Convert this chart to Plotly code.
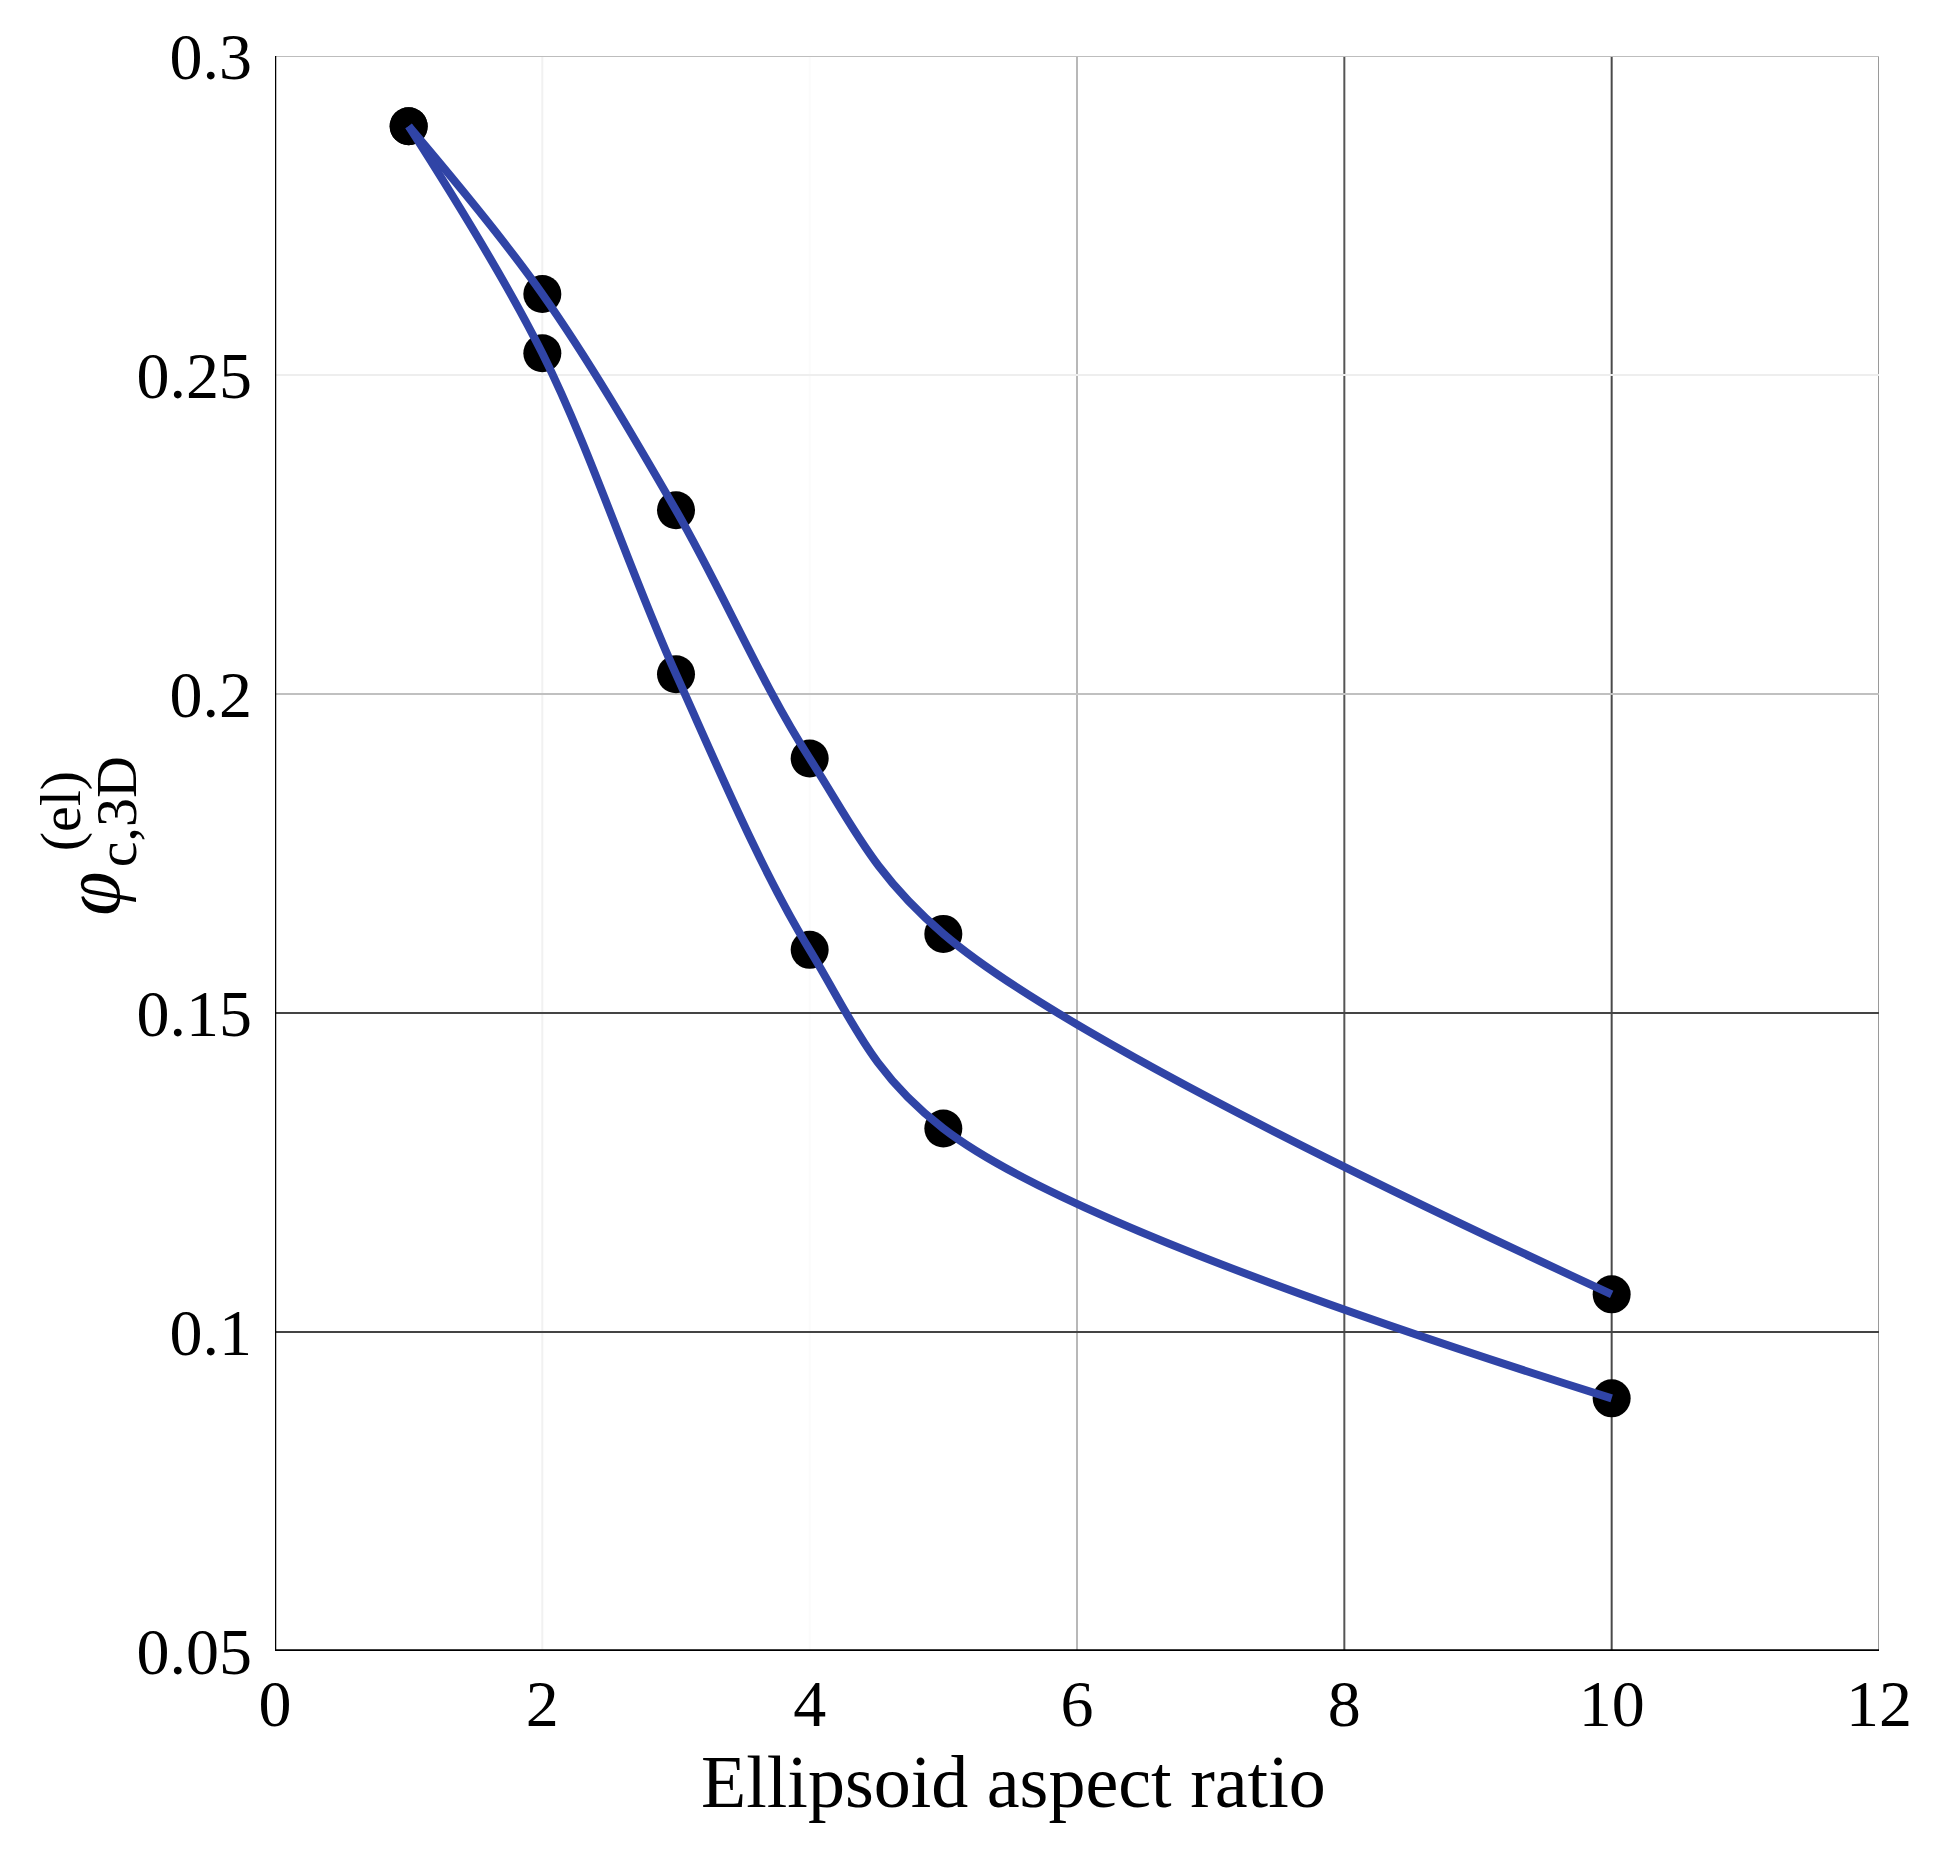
import plotly.graph_objects as go

# ---- data ----
aspect_ratio = [1, 2, 3, 4, 5, 10]
phi_upper = [0.289, 0.2627, 0.2288, 0.1899, 0.1624, 0.1059]
phi_lower = [0.289, 0.2534, 0.2031, 0.1599, 0.1319, 0.0896]

x_ticks = [0, 2, 4, 6, 8, 10, 12]
y_ticks = [0.05, 0.1, 0.15, 0.2, 0.25, 0.3]
y_tick_labels = ["0.05", "0.1", "0.15", "0.2", "0.25", "0.3"]

# ---- styles ----
LINE_COLOR = "#3044A6"
FONT = "Liberation Serif"
x_grid_colors = ["#000000", "#f1f1f1", "#fbfbfb", "#b8b8b8", "#555555", "#4a4a4a", "#9a9a9a"]
y_grid_colors = ["#000000", "#444444", "#444444", "#c0c0c0", "#eeeeee", "#bdbdbd"]

OFF = 8  # page body margin
W, H = 1924, 1843
L, R, T, B = 267, 53, 36, 200

fig = go.Figure()

for ys in (phi_upper, phi_lower):
    fig.add_trace(go.Scatter(x=aspect_ratio, y=ys, mode="markers",
                             marker=dict(size=38, color="black"),
                             showlegend=False, hoverinfo="skip"))
for ys in (phi_upper, phi_lower):
    fig.add_trace(go.Scatter(x=aspect_ratio, y=ys, mode="lines",
                             line=dict(color=LINE_COLOR, width=8, shape="spline", smoothing=1.0),
                             showlegend=False))

shapes = []
for xv, c in zip(x_ticks[1:], x_grid_colors[1:]):
    shapes.append(dict(type="line", xref="x", yref="y", x0=xv, x1=xv, y0=0.05, y1=0.3,
                       line=dict(color=c, width=2), layer="below"))
for yv, c in zip(y_ticks[1:], y_grid_colors[1:]):
    shapes.append(dict(type="line", xref="x", yref="y", x0=0, x1=12, y0=yv, y1=yv,
                       line=dict(color=c, width=2), layer="below"))
shapes.append(dict(type="line", xref="x", yref="y", x0=0, x1=0, y0=0.05, y1=0.3,
                   line=dict(color="black", width=2.5), layer="below"))
shapes.append(dict(type="line", xref="x", yref="y", x0=0, x1=12, y0=0.05, y1=0.05,
                   line=dict(color="black", width=3.5), layer="below"))


def px_x(p):
    return (p - OFF - L) / (W - L - R)


def px_y(p):
    return (H - B - (p - OFF)) / (H - T - B)


annotations = [
    dict(text="Ellipsoid aspect ratio", xref="paper", yref="paper",
         x=px_x(1013), y=px_y(1783), xanchor="center", yanchor="middle",
         showarrow=False, font=dict(family=FONT, size=74, color="black")),
    dict(text="<i>φ</i>", xref="paper", yref="paper",
         x=px_x(92), y=px_y(888), xanchor="center", yanchor="middle",
         textangle=-90, showarrow=False, font=dict(family=FONT, size=80, color="black")),
    dict(text="c,3D", xref="paper", yref="paper",
         x=px_x(116), y=px_y(806), xanchor="center", yanchor="middle",
         textangle=-90, showarrow=False, font=dict(family=FONT, size=58, color="black")),
    dict(text="(el)", xref="paper", yref="paper",
         x=px_x(60), y=px_y(805), xanchor="center", yanchor="middle",
         textangle=-90, showarrow=False, font=dict(family=FONT, size=58, color="black")),
]

fig.update_layout(
    width=W, height=H,
    margin=dict(l=L, r=R, t=T, b=B, pad=0),
    paper_bgcolor="white", plot_bgcolor="white",
    font=dict(family=FONT, size=66, color="black"),
    shapes=shapes, annotations=annotations,
    xaxis=dict(range=[0, 12], tickvals=x_ticks, ticktext=[str(v) for v in x_ticks],
               showgrid=False, zeroline=False, showline=False, ticks="",
               ticklabelstandoff=8, tickfont=dict(family=FONT, size=66)),
    yaxis=dict(range=[0.05, 0.3], tickvals=y_ticks, ticktext=y_tick_labels,
               showgrid=False, zeroline=False, showline=False, ticks="",
               ticklabelstandoff=22, tickfont=dict(family=FONT, size=66)),
)

fig.write_html("out.html")
